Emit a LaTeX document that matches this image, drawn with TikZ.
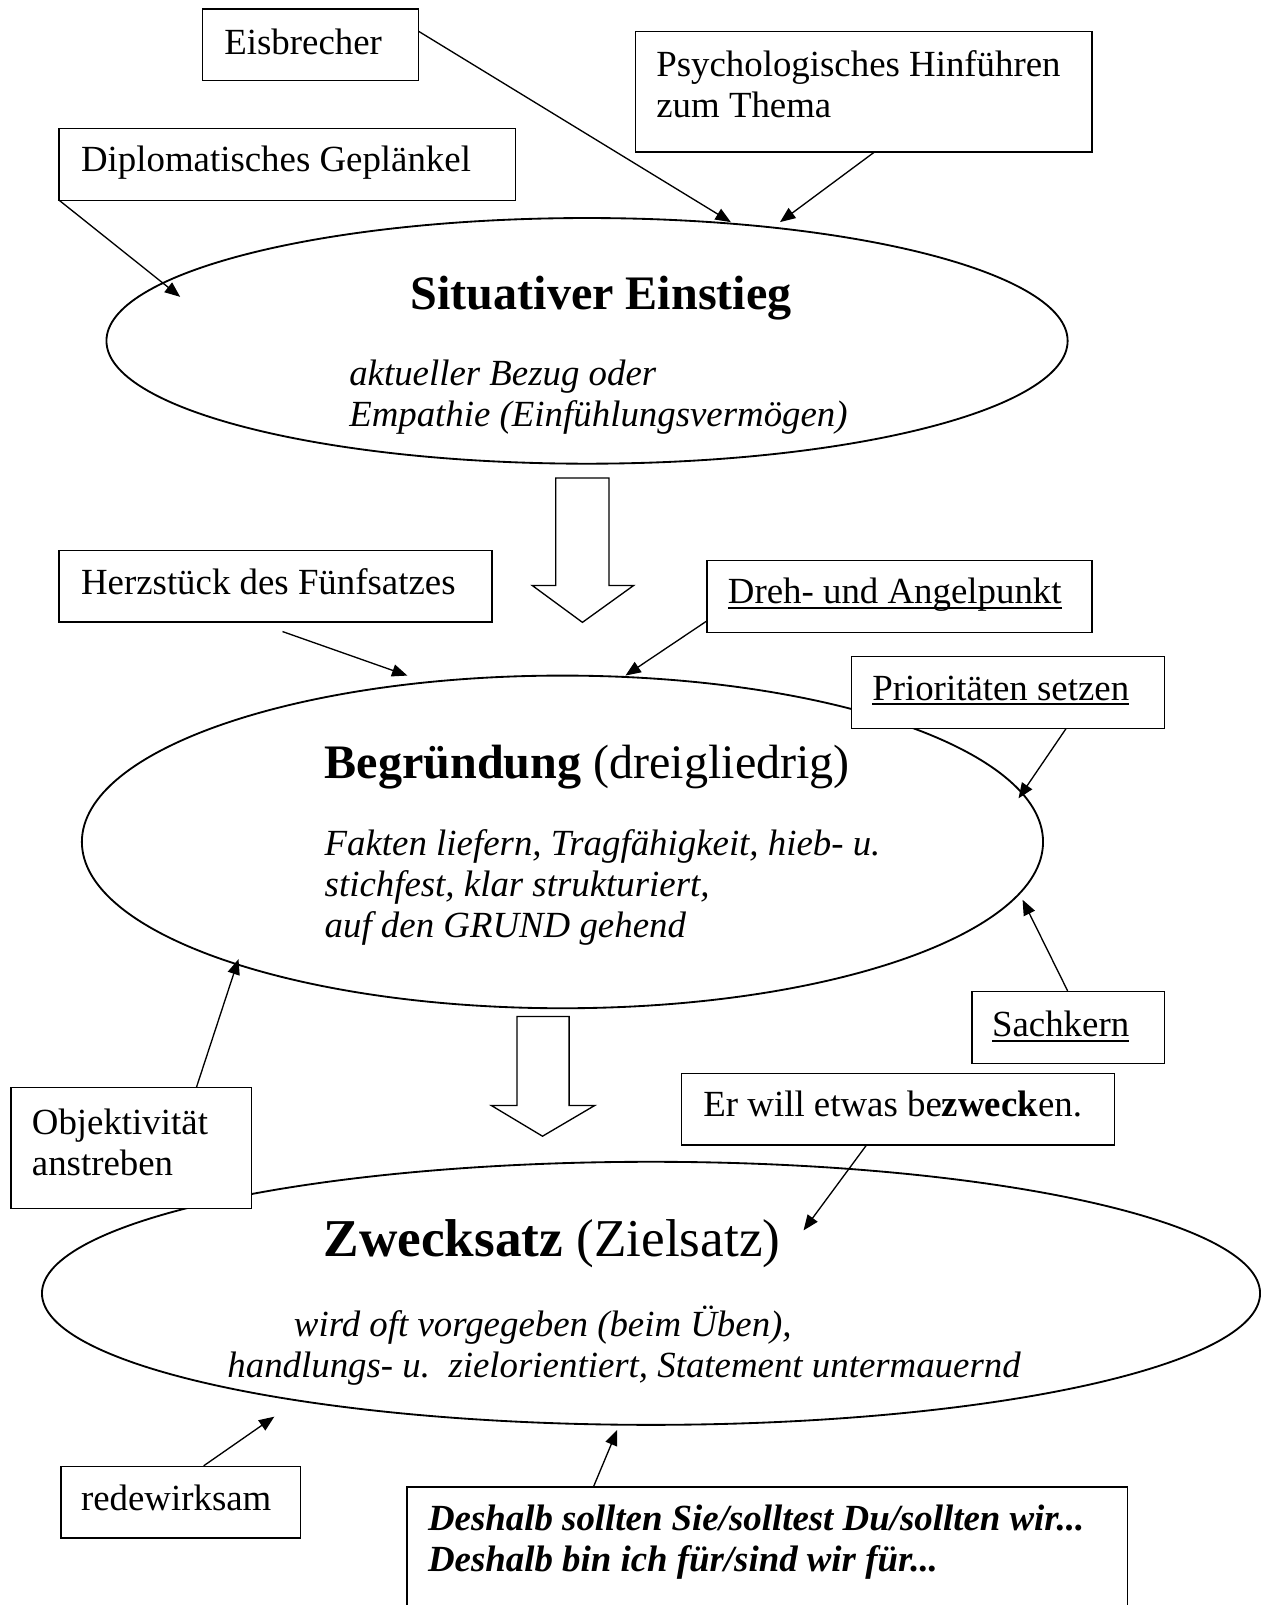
\documentclass[tikz,border=0pt]{standalone}
\usepackage{fontspec}
\setmainfont{Liberation Serif}
\usetikzlibrary{shapes.geometric,arrows.meta}

% underline at a fixed depth below the baseline (crosses descenders)
\newcommand\ulword[1]{\setbox0\hbox{#1}\rlap{\rule[-5pt]{\wd0}{1.8pt}}\box0}
\newcommand\bodysize{\fontsize{36}{40}\selectfont}
\newcommand\titlesize{\fontsize{47}{54}\selectfont}
\newcommand\bigtitlesize{\fontsize{52}{60}\selectfont}
\newcommand\lines[1]{\begin{tabular}[t]{@{}l@{}}#1\end{tabular}}
\frenchspacing

\begin{document}
\begin{tikzpicture}[x=1pt,y=-1pt,
  ell/.style={draw, ellipse, line width=1.8pt, inner sep=0pt},
  box/.style={draw, fill=white, rectangle, line width=1.3pt, inner sep=0pt, anchor=north west},
  txt/.style={anchor=base west, inner sep=0pt, font=\bodysize},
  conn/.style={line width=1.3pt, -{Triangle[length=15pt,width=12pt]}},
  blockarrow/.style={draw, line width=1.3pt, fill=white, line join=miter}]

\clip (0,0) rectangle (1232,1568);
\fill[white] (0,0) rectangle (1232,1568);

% the three stages
\node[ell, minimum width=939pt, minimum height=240pt] (sit) at (573.5,333) {};
\node[ell, minimum width=939pt, minimum height=325pt] (beg) at (549.5,822.5) {};
\node[ell, minimum width=1190pt, minimum height=257pt] (zweck) at (636,1263.5) {};

% hollow arrows leading from stage to stage
\path[blockarrow] (543,467) -- (595,467) -- (595,572) -- (619,572) -- (569,608)
  -- (520,572) -- (543,572) -- cycle;
\path[blockarrow] (505,993) -- (556,993) -- (556,1080) -- (581,1080) -- (530,1110)
  -- (480,1080) -- (505,1080) -- cycle;

% end points of the connectors
\coordinate (eisOut) at (408,30);    \coordinate (eisIn) at (714,217);
\coordinate (psychOut) at (855,148); \coordinate (psychIn) at (762,217);
\coordinate (diplIn) at (176,290);
\coordinate (herzOut) at (276,617);  \coordinate (herzIn) at (398,660);
\coordinate (drehOut) at (690,607);  \coordinate (drehIn) at (611,660);
\coordinate (prioOut) at (1042,711); \coordinate (prioIn) at (995,780);
\coordinate (sachOut) at (1043,968); \coordinate (sachIn) at (999,879);
\coordinate (objOut) at (192,1062);  \coordinate (objIn) at (233,937);
\coordinate (erOut) at (847,1118);   \coordinate (erIn) at (785,1202);
\coordinate (redeOut) at (199,1432); \coordinate (redeIn) at (268,1384);
\coordinate (deshOut) at (580,1452); \coordinate (deshIn) at (603,1397);

\draw[conn] (eisOut) -- (eisIn);
\draw[conn] (psychOut) -- (psychIn);
\draw[conn] (57,195) coordinate (diplOut) -- (diplIn);
\draw[conn] (herzOut) -- (herzIn);
\draw[conn] (drehOut) -- (drehIn);
\draw[conn] (prioOut) -- (prioIn);
\draw[conn] (sachOut) -- (sachIn);
\draw[conn] (objOut) -- (objIn);
\draw[conn] (erOut) -- (erIn);
\draw[conn] (redeOut) -- (redeIn);
\draw[conn] (deshOut) -- (deshIn);

% note boxes
\node[box, minimum width=211pt, minimum height=70pt] (eis) at (197,8) {};
\node[box, minimum width=446pt, minimum height=118pt] (psych) at (620,30) {};
\node[box, minimum width=446pt, minimum height=70pt] (dipl) at (57,125) {};
\node[box, minimum width=423pt, minimum height=70pt] (herz) at (57,537) {};
\node[box, minimum width=376pt, minimum height=70pt] (dreh) at (690,547) {};
\node[box, minimum width=306pt, minimum height=70pt] (prio) at (831,641) {};
\node[box, minimum width=188pt, minimum height=70pt] (sach) at (949,968) {};
\node[box, minimum width=235pt, minimum height=118pt] (obj) at (10,1062) {};
\node[box, minimum width=423pt, minimum height=70pt] (er) at (665,1048) {};
\node[box, minimum width=234pt, minimum height=70pt] (rede) at (59,1432) {};
\node[box, minimum width=704pt, minimum height=160pt] (desh) at (397,1452) {};

% box texts
\node[txt] (eisT) at (219,53) {Eisbrecher};
\node[txt] (psychT) at (641,75) {\lines{Psychologisches Hinführen\\zum Thema}};
\node[txt] (diplT) at (79,168) {Diplomatisches Geplänkel};
\node[txt] (herzT) at (79,581) {Herzstück des Fünfsatzes};
\node[txt] (drehT) at (711,590) {\ulword{Dreh- und Angelpunkt}};
\node[txt] (prioT) at (852,684) {\ulword{Prioritäten setzen}};
\node[txt] (sachT) at (969,1013) {\ulword{Sachkern}};
\node[txt] (objT) at (31,1108) {\lines{Objektivität\\anstreben}};
\node[txt] (erT) at (687,1091) {Er will etwas be\textbf{zweck}en.};
\node[txt] (redeT) at (79,1476) {redewirksam};
\node[txt, font=\bodysize\bfseries\itshape] (deshT) at (418,1495)
  {\lines{Deshalb sollten Sie/solltest Du/sollten wir...\\Deshalb bin ich für/sind wir für...}};

% stage texts
\node[txt, font=\titlesize\bfseries] (sitT) at (401,302) {Situativer Einstieg};
\node[txt, font=\bodysize\itshape] (sitD) at (341,377)
  {\lines{aktueller Bezug oder\\Empathie (Einfühlungsvermögen)}};
\node[txt, font=\titlesize] (begT) at (317,761) {\textbf{Begründung} (dreigliedrig)};
\node[txt, font=\bodysize\itshape] (begD) at (317,836)
  {\lines{Fakten liefern, Tragfähigkeit, hieb- u.\\stichfest, klar strukturiert,\\auf den GRUND gehend}};
\node[txt, font=\bigtitlesize] (zweckT) at (316,1228) {\textbf{Zwecksatz} (Zielsatz)};
\node[txt, font=\bodysize\itshape] (zweckD1) at (287,1306) {wird oft vorgegeben (beim Üben),};
\node[txt, font=\bodysize\itshape] (zweckD2) at (222,1346) {handlungs- u.\ \ zielorientiert, Statement untermauernd};

\end{tikzpicture}
\end{document}
